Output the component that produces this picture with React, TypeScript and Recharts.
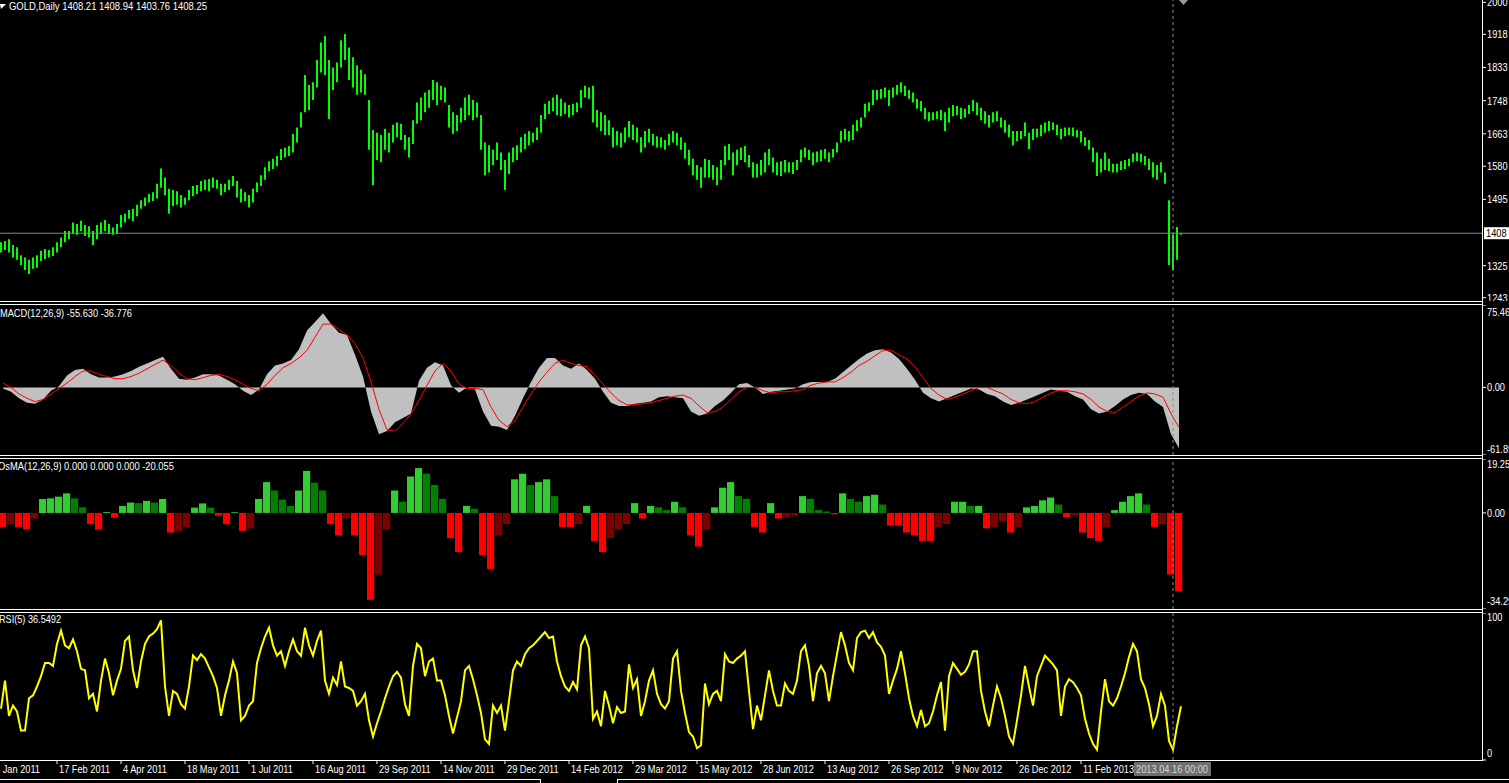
import React from 'react';
import { ComposedChart, Bar, Line, Area, XAxis, YAxis, ReferenceLine, Cell } from 'recharts';

const FONT = '"Liberation Sans", Arial, sans-serif';
const SX = 0.84;

// ---- price (each point = 2 trading days): high / low ----
const priceHigh = [
  1385,1388,1393,1378,1372,1352,1346,1340,1346,1352,
  1363,1368,1365,1372,1385,1397,1414,1414,1436,1432,
  1440,1429,1426,1414,1429,1436,1442,1432,1423,1432,
  1455,1458,1468,1471,1481,1493,1500,1509,1513,1535,
  1574,1551,1522,1519,1516,1506,1500,1519,1529,1532,
  1542,1545,1547,1551,1545,1535,1535,1545,1555,1542,
  1522,1513,1506,1522,1538,1557,1577,1593,1599,1606,
  1624,1627,1632,1663,1679,1718,1814,1788,1795,1852,
  1897,1914,1852,1833,1846,1903,1919,1884,1859,1839,
  1827,1816,1750,1673,1666,1660,1676,1666,1686,1692,
  1689,1660,1654,1698,1743,1756,1769,1775,1801,1795,
  1786,1782,1737,1718,1711,1730,1756,1763,1750,1743,
  1711,1641,1634,1622,1641,1615,1596,1615,1628,1634,
  1654,1663,1670,1666,1679,1711,1740,1747,1756,1763,
  1753,1743,1737,1740,1743,1775,1786,1782,1786,1724,
  1718,1711,1698,1679,1670,1666,1679,1696,1686,1679,
  1654,1670,1676,1663,1657,1654,1647,1663,1670,1666,
  1654,1641,1622,1599,1583,1577,1599,1596,1583,1577,
  1596,1632,1637,1615,1622,1628,1632,1609,1590,1586,
  1596,1615,1624,1602,1590,1593,1596,1590,1590,1596,
  1622,1628,1622,1615,1618,1622,1624,1615,1624,1641,
  1670,1676,1670,1686,1698,1705,1740,1743,1775,1775,
  1778,1782,1775,1782,1788,1795,1786,1775,1769,1753,
  1747,1730,1718,1718,1721,1724,1718,1730,1737,1734,
  1730,1727,1737,1750,1743,1730,1721,1711,1718,1721,
  1705,1698,1686,1670,1670,1670,1692,1666,1676,1676,
  1686,1692,1696,1692,1686,1676,1679,1679,1679,1673,
  1670,1654,1647,1628,1615,1599,1615,1599,1586,1586,
  1593,1596,1599,1612,1615,1612,1606,1599,1590,1583,
  1590,1564,1493,1404,1424,1409,
];
const priceLow = [
  1359,1365,1359,1346,1340,1327,1314,1304,1317,1320,
  1337,1342,1346,1350,1359,1372,1385,1393,1406,1404,
  1414,1401,1397,1378,1393,1406,1414,1406,1404,1406,
  1423,1436,1445,1439,1452,1471,1478,1487,1491,1497,
  1525,1506,1458,1478,1481,1474,1481,1493,1503,1509,
  1516,1519,1516,1525,1522,1506,1513,1519,1529,1500,
  1487,1491,1474,1487,1513,1529,1545,1568,1573,1580,
  1596,1602,1606,1615,1641,1679,1718,1724,1750,1782,
  1820,1814,1701,1775,1795,1833,1852,1801,1782,1763,
  1769,1763,1622,1532,1596,1590,1622,1615,1641,1654,
  1647,1622,1602,1637,1689,1698,1718,1730,1750,1737,
  1750,1743,1679,1663,1670,1692,1698,1711,1698,1705,
  1622,1557,1564,1583,1596,1570,1519,1560,1590,1596,
  1615,1624,1634,1641,1647,1666,1701,1714,1721,1711,
  1708,1714,1705,1711,1718,1730,1756,1753,1692,1679,
  1670,1660,1660,1628,1634,1628,1641,1654,1647,1641,
  1615,1628,1641,1634,1628,1628,1622,1634,1641,1634,
  1622,1599,1583,1557,1545,1525,1551,1551,1545,1532,
  1545,1583,1596,1557,1583,1596,1590,1577,1551,1551,
  1557,1564,1583,1564,1557,1555,1564,1564,1560,1570,
  1590,1602,1596,1583,1590,1593,1599,1590,1602,1615,
  1641,1647,1644,1647,1670,1679,1705,1721,1737,1750,
  1753,1756,1734,1756,1763,1769,1760,1753,1743,1727,
  1721,1701,1696,1698,1701,1698,1670,1692,1708,1711,
  1701,1705,1714,1721,1711,1698,1689,1679,1692,1696,
  1679,1666,1654,1634,1644,1650,1657,1624,1647,1654,
  1657,1666,1670,1673,1660,1650,1657,1660,1657,1654,
  1641,1632,1622,1590,1555,1564,1570,1568,1564,1564,
  1570,1573,1580,1590,1593,1590,1583,1570,1551,1545,
  1564,1535,1327,1314,1340,1404,
];

// ---- RSI(5), same spacing as price ----
const rsiValues = [
  35,54,30,37,33,20,20,42,44,50,
  57,66,66,64,79,88,78,76,82,74,
  62,61,42,45,33,54,69,59,44,54,
  62,81,84,61,49,67,79,84,86,89,
  95,50,30,47,45,38,35,50,71,68,
  72,69,63,57,49,30,44,54,67,59,
  27,30,37,40,66,76,84,90,78,71,
  74,64,74,82,74,71,90,78,71,81,
  88,54,45,56,51,67,50,49,47,37,
  40,45,27,16,25,33,42,50,57,60,
  56,38,30,64,79,76,57,67,69,54,
  54,44,30,18,29,40,61,64,55,44,
  32,14,11,37,32,37,20,40,61,67,
  64,72,76,78,81,84,87,83,84,67,
  57,50,47,53,48,78,84,76,28,33,
  23,47,37,25,36,32,33,65,49,55,
  30,40,54,61,45,38,35,40,69,74,
  47,32,19,16,8,10,52,38,45,47,
  40,72,67,66,69,71,74,47,21,37,
  27,44,61,47,37,37,52,47,45,54,
  74,78,64,40,59,64,59,40,57,72,
  87,78,66,61,83,87,88,83,87,80,
  77,71,45,54,62,74,59,42,30,23,
  34,23,25,33,44,53,20,57,66,62,
  58,60,65,74,74,47,33,23,37,50,
  42,30,16,11,27,44,64,50,37,57,
  64,71,68,65,61,30,50,55,53,49,
  44,28,18,11,7,33,55,40,37,42,
  50,59,70,79,74,55,49,38,23,30,
  45,37,13,7,23,36.55,
];

// ---- MACD(12,26,9) (each point = 4 trading days) ----
const macdMain = [
  -1,-4,-10,-14,-15,-11,-3,1,11,16,
  17,12,9,9,10,12,15,19,22,25,
  28,17,8,7,9,12,12,11,7,3,
  -3,-7,-2,12,20,22,25,35,52,60,
  68,58,50,48,30,10,-22,-43,-40,-32,
  -28,-24,6,18,23,20,2,-5,0,-2,
  -22,-35,-36,-39,-26,-10,5,18,27,27,
  20,17,22,16,8,-4,-14,-17,-17,-15,
  -14,-13,-9,-8,-9,-10,-22,-26,-24,-17,
  -12,-5,3,4,0,-6,-4,-3,-2,-1,
  3,5,5,5,8,14,20,26,31,34,
  35,32,26,17,7,-5,-10,-13,-10,-7,
  -4,-1,-2,-6,-8,-13,-16,-14,-11,-8,
  -5,-2,-3,-4,-8,-11,-20,-24,-22,-17,
  -11,-7,-5,-6,-13,-18,-43,-55.63,
];
const macdSignal = [
  4,0,-6,-10,-13,-11,-6,-1,4,10,
  15,15,12,10,8,8,10,13,17,21,
  25,20,13,8,7,9,11,12,10,7,
  3,-1,-3,3,11,18,22,27,34,46,
  58,58,53,48,40,27,5,-20,-39,-40,
  -33,-24,-12,2,15,22,15,3,-1,-1,
  -2,-18,-30,-36,-30,-18,-6,5,14,22,
  25,22,20,19,11,3,-5,-12,-16,-16,
  -15,-14,-12,-10,-8,-7,-10,-17,-23,-22,
  -18,-11,-4,0,0,-3,-5,-4,-4,-3,
  -2,2,4,5,5,9,14,20,24,29,
  34,34,30,26,19,9,-1,-7,-11,-9,
  -6,-3,0,0,-3,-6,-11,-14,-15,-13,
  -9,-5,-3,-3,-4,-6,-11,-18,-22,-23,
  -18,-13,-8,-5,-6,-9,-24,-36.78,
];
const osmaValues = [
  -5,-4,-5,-5.8,-2,5,5.2,5.8,7,5.2,
  2,-4,-6,0.3,-1.7,2.5,3.7,3.5,4.3,3.7,
  5,-7,-6.5,-5,1.9,3.4,1.9,-1,-4,0.2,
  -6.4,-5.5,5,11,8,4.8,2.5,8,15,10.8,
  8,-4,-8,-2,-8,-15,-31,-22,-6,8,
  4,13,16,14,10,5,-9,-14,2.5,1.5,
  -15,-20,-8,-4,12,14,10,11,12,6,
  -5,-5,-4,2.5,-10,-14,-9,-6,-4,3.5,
  -2,2.5,2,1,4,2,-8,-12,-6,2,
  9,11,6,5,-5,-7,3.5,-2,-1.5,-1,
  6,5,1,0.5,-0.5,7,5,4,6,6.5,
  3,-4.5,-4.5,-7,-8,-10,-10,-5,-4,4,
  4,2.5,2.5,-5.5,-5,-3,-7,-5,2,2.5,
  4.5,5.5,3,-1.5,-1,-7,-9,-10,-5,1,
  4,6,7,3,-5,-4,-22,-28,
];

// ---- axes / labels ----
const timeTickIndex = [-2, 14, 30, 46, 62, 78, 94, 110, 126, 142, 158, 174, 190, 206, 222, 238, 254, 270];
const timeTickLabels = [
  '3 Jan 2011', '17 Feb 2011', '4 Apr 2011', '18 May 2011', '1 Jul 2011', '16 Aug 2011',
  '29 Sep 2011', '14 Nov 2011', '29 Dec 2011', '14 Feb 2012', '29 Mar 2012', '15 May 2012',
  '28 Jun 2012', '13 Aug 2012', '26 Sep 2012', '9 Nov 2012', '26 Dec 2012', '11 Feb 2013',
];
const priceAxisTicks = [2000, 1918, 1833, 1748, 1663, 1580, 1495, 1325, 1243];
const macdAxisTicks = [75.46, 0, -61.89];
const osmaAxisTicks = [19.25, 0, -34.29];
const rsiAxisTicks = [100, 0];
const lastPrice = 1408.25;
const lastPriceLabel = '1408';
const crosshairIndex = 293;
const crosshairLabel = '2013.04.16 00:00';
const titleMain = 'GOLD,Daily  1408.21 1408.94 1403.76 1408.25';
const titleMacd = 'MACD(12,26,9) -55.630 -36.776';
const titleOsma = 'OsMA(12,26,9) 0.000 0.000 0.000 -20.055';
const titleRsi = 'RSI(5) 36.5492';

// ---- tables ----
const priceData = priceHigh.map((h, k) => ({ i: k, hl: [priceLow[k], h] }));
const rsiData = rsiValues.map((v, k) => ({ i: k, rsi: v }));
const macdData = macdMain.map((v, k) => ({ i: 2 * k + 0.5, macd: v, signal: macdSignal[k] }));
const osmaData = osmaValues.map((v, k) => ({ i: 2 * k + 0.5, osma: v }));
const osmaColors = osmaValues.map((v, k) => {
  const prev = k > 0 ? osmaValues[k - 1] : v;
  if (v >= 0) return v >= prev ? '#32cd32' : '#008000';
  return v <= prev ? '#ff0000' : '#800000';
});

const X_DOMAIN: [number, number] = [-5.25, 370.5];
const CHART_W = 1529;
const AXIS_W = 26;

// narrow (Tahoma-like) text: Liberation Sans squeezed horizontally
const NText = ({ x, y, children, fill = '#ffffff', anchor = 'start' }: any) => (
  <text
    transform={`translate(${x} ${y}) scale(${SX} 1)`}
    fill={fill}
    fontSize={11}
    fontFamily={FONT}
    textAnchor={anchor}
  >
    {children}
  </text>
);

const makeYTick = (plotH: number, clampTop: number, clampBottom: number, digits: number) => (props: any) => {
  const { x, y, payload } = props;
  const yy = Math.min(Math.max(y, clampTop), plotH - clampBottom);
  return <NText x={x} y={yy + 4}>{Number(payload.value).toFixed(digits)}</NText>;
};

const XTick = (props: any) => {
  const { x, y, payload } = props;
  const idx = timeTickIndex.indexOf(payload.value);
  return <NText x={x + 2} y={y + 7}>{idx >= 0 ? timeTickLabels[idx] : ''}</NText>;
};

const PriceLabel = (props: any) => {
  const vb = props.viewBox || {};
  const right = (vb.x || 0) + (vb.width || 0);
  const y = vb.y || 0;
  return (
    <g>
      <rect x={right + 1} y={y - 6} width={26} height={12} fill="#ffffff" />
      <NText x={right + 3} y={y + 4} fill="#000000">{lastPriceLabel}</NText>
    </g>
  );
};

const CrossLabel = (props: any) => {
  const vb = props.viewBox || {};
  const x = vb.x || 0;
  const bottom = (vb.y || 0) + (vb.height || 0);
  return (
    <g>
      <rect x={x - 39} y={bottom + 2} width={77} height={14} fill="#6e6e6e" />
      <NText x={x - 1} y={bottom + 13} fill="#d6d6d6" anchor="middle">{crosshairLabel}</NText>
    </g>
  );
};

const cross = (withLabel: boolean) => (
  <ReferenceLine
    x={crosshairIndex}
    stroke="#8a8a8a"
    strokeDasharray="3 3"
    label={withLabel ? CrossLabel : undefined}
  />
);

const margin = { top: 0, right: 0, bottom: 0, left: 0 };

export default function App() {
  return (
    <div style={{ position: 'absolute', left: 0, top: 0, width: 1509, height: 783, background: '#000', overflow: 'hidden' }}>
      {/* Price pane */}
      <div style={{ position: 'absolute', left: -20, top: 0 }}>
        <ComposedChart width={CHART_W} height={301} data={priceData} margin={margin}>
          <XAxis type="number" dataKey="i" domain={X_DOMAIN} allowDataOverflow hide />
          <YAxis
            orientation="right" width={AXIS_W} domain={[1234.5, 2006]} allowDataOverflow
            ticks={priceAxisTicks} interval={0} axisLine={false}
            tickLine={{ stroke: '#ffffff' }} tickSize={3} tickMargin={1}
            tick={makeYTick(301, -100, -100, 0)}
          />
          <Bar dataKey="hl" fill="#00ff00" barSize={2} isAnimationActive={false} />
          <ReferenceLine y={lastPrice} stroke="#778899" label={PriceLabel} />
          {cross(false)}
        </ComposedChart>
      </div>

      {/* MACD pane */}
      <div style={{ position: 'absolute', left: -20, top: 305 }}>
        <ComposedChart width={CHART_W} height={150} data={macdData} margin={margin}>
          <XAxis type="number" dataKey="i" domain={X_DOMAIN} allowDataOverflow hide />
          <YAxis
            orientation="right" width={AXIS_W} domain={[-61.89, 75.46]} allowDataOverflow
            ticks={macdAxisTicks} interval={0} axisLine={false}
            tickLine={{ stroke: '#ffffff' }} tickSize={3} tickMargin={1}
            tick={makeYTick(150, 7, 6, 2)}
          />
          <Area dataKey="macd" type="linear" baseValue={0} fill="#c0c0c0" fillOpacity={1} stroke="none" isAnimationActive={false} />
          <Line dataKey="signal" type="linear" stroke="#ff0000" strokeWidth={1} dot={false} isAnimationActive={false} />
          {cross(false)}
        </ComposedChart>
      </div>

      {/* OsMA pane */}
      <div style={{ position: 'absolute', left: -20, top: 459 }}>
        <ComposedChart width={CHART_W} height={150} data={osmaData} margin={margin}>
          <XAxis type="number" dataKey="i" domain={X_DOMAIN} allowDataOverflow hide />
          <YAxis
            orientation="right" width={AXIS_W} domain={[-34.29, 19.25]} allowDataOverflow
            ticks={osmaAxisTicks} interval={0} axisLine={false}
            tickLine={{ stroke: '#ffffff' }} tickSize={3} tickMargin={1}
            tick={makeYTick(150, 5, 8, 2)}
          />
          <Bar dataKey="osma" barSize={8} isAnimationActive={false}>
            {osmaData.map((d, k) => (
              <Cell key={k} fill={osmaColors[k]} />
            ))}
          </Bar>
          {cross(false)}
        </ComposedChart>
      </div>

      {/* RSI pane + time axis */}
      <div style={{ position: 'absolute', left: -20, top: 613 }}>
        <ComposedChart width={CHART_W} height={165} data={rsiData} margin={margin}>
          <XAxis
            type="number" dataKey="i" domain={X_DOMAIN} allowDataOverflow
            ticks={timeTickIndex} interval={0} height={18} axisLine={false}
            tickLine={{ stroke: '#ffffff' }} tickSize={4} tickMargin={2}
            tick={XTick}
          />
          <YAxis
            orientation="right" width={AXIS_W} domain={[0, 100]} allowDataOverflow
            ticks={rsiAxisTicks} interval={0} axisLine={false}
            tickLine={{ stroke: '#ffffff' }} tickSize={3} tickMargin={1}
            tick={makeYTick(147, 4, 7, 0)}
          />
          <Line dataKey="rsi" type="linear" stroke="#ffff00" strokeWidth={2} dot={false} isAnimationActive={false} />
          {cross(true)}
        </ComposedChart>
      </div>

      {/* frame, titles, markers */}
      <svg width={1509} height={783} style={{ position: 'absolute', left: 0, top: 0, pointerEvents: 'none' }}>
        <g stroke="#ffffff" strokeWidth={1} shapeRendering="crispEdges">
          <line x1={0} y1={301.5} x2={1483} y2={301.5} />
          <line x1={0} y1={304.5} x2={1483} y2={304.5} />
          <line x1={0} y1={455.5} x2={1483} y2={455.5} />
          <line x1={0} y1={458.5} x2={1483} y2={458.5} />
          <line x1={0} y1={609.5} x2={1483} y2={609.5} />
          <line x1={0} y1={612.5} x2={1483} y2={612.5} />
          <line x1={0} y1={760.5} x2={1483} y2={760.5} />
          <line x1={1482.5} y1={0} x2={1482.5} y2={761} />
          <line x1={0} y1={779.5} x2={541} y2={779.5} />
          <line x1={540.5} y1={779} x2={540.5} y2={783} />
          <line x1={617} y1={779.5} x2={1509} y2={779.5} />
          <line x1={617.5} y1={779} x2={617.5} y2={783} />
        </g>
        <polygon points="0,4 6,4 1,9" fill="#ffffff" />
        <polygon points="1179,0 1188,0 1183.5,5" fill="#9a9a9a" />
        <text x={9} y={10} fill="#ffffff" fontSize={11} fontFamily={FONT} textLength={198} lengthAdjust="spacingAndGlyphs">{titleMain}</text>
        <text x={0} y={317} fill="#ffffff" fontSize={11} fontFamily={FONT} textLength={132} lengthAdjust="spacingAndGlyphs">{titleMacd}</text>
        <text x={-2} y={470} fill="#ffffff" fontSize={11} fontFamily={FONT} textLength={176} lengthAdjust="spacingAndGlyphs">{titleOsma}</text>
        <text x={-1} y={623} fill="#ffffff" fontSize={11} fontFamily={FONT} textLength={62} lengthAdjust="spacingAndGlyphs">{titleRsi}</text>
      </svg>
    </div>
  );
}
